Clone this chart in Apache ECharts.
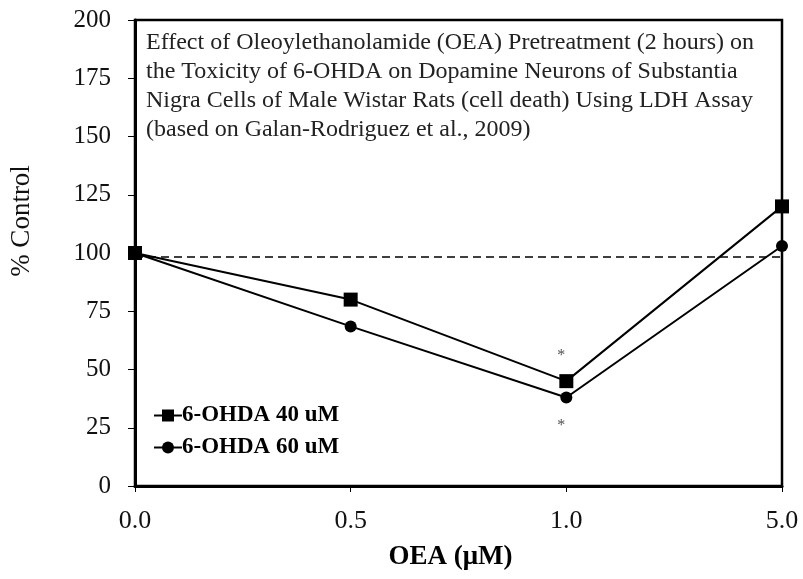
<!DOCTYPE html>
<html>
<head>
<meta charset="utf-8">
<script src="https://cdn.jsdelivr.net/npm/echarts@6/dist/echarts.min.js"></script>
<style>
  html, body { margin: 0; padding: 0; background: #fff; }
  #chart { width: 803px; height: 579px; }
</style>
</head>
<body>
<div id="chart"></div>
<script>
const categories = ['0.0', '0.5', '1.0', '5.0']
const yTicks = [0, 25, 50, 75, 100, 125, 150, 175, 200]
const ohda40 = [100, 80, 45, 120]
const ohda60 = [100, 68.5, 38, 103]
const baseline = 98.5
const starPoints = [['1.0', 57], ['1.0', 27]]

const serif = '"Liberation Serif", "DejaVu Serif", serif'

const chart = echarts.init(document.getElementById('chart'))
chart.setOption({
	animation: false,
	title: {
		text: 'Effect of Oleoylethanolamide (OEA) Pretreatment (2 hours) on\nthe Toxicity of 6-OHDA on Dopamine Neurons of Substantia\nNigra Cells of Male Wistar Rats (cell death) Using LDH Assay\n(based on Galan-Rodriguez et al., 2009)',
		left: 141,
		top: 23,
		textStyle: {
			fontFamily: serif,
			fontWeight: 'normal',
			fontSize: 24,
			lineHeight: 29,
			color: '#222'
		}
	},
	legend: {
		orient: 'vertical',
		left: 148,
		top: 399,
		itemGap: 9,
		itemWidth: 28,
		itemHeight: 15,
		textStyle: {
			fontFamily: serif,
			fontWeight: 'bold',
			fontSize: 23,
			color: '#000',
			padding: [0, 0, 0, -5]
		},
		data: ['6-OHDA 40 uM', '6-OHDA 60 uM']
	},
	grid: {
		left: 134,
		right: 21,
		top: 20,
		bottom: 93,
		show: true,
		borderColor: '#000',
		borderWidth: 2.5
	},
	xAxis: {
		type: 'category',
		data: categories,
		boundaryGap: false,
		name: 'OEA (\u03bcM)',
		nameLocation: 'middle',
		nameGap: 58,
		nameTextStyle: {
			fontFamily: serif,
			fontWeight: 'bold',
			fontSize: 27,
			color: '#000',
			padding: [0, 16, 0, 0]
		},
		axisLine: { lineStyle: { color: '#000', width: 3 } },
		axisTick: { show: true, length: 6, lineStyle: { color: '#000', width: 1 } },
		axisLabel: {
			fontFamily: serif,
			fontSize: 26,
			color: '#111',
			margin: 22
		},
		splitLine: { show: false }
	},
	yAxis: {
		type: 'value',
		min: yTicks[0],
		max: yTicks[yTicks.length - 1],
		interval: 25,
		name: '% Control',
		nameLocation: 'middle',
		nameGap: 100,
		nameTextStyle: {
			fontFamily: serif,
			fontSize: 27,
			color: '#111',
			padding: [0, 0, 0, 64]
		},
		axisLine: { show: true, lineStyle: { color: '#000', width: 3 } },
		axisTick: { show: true, length: 7, lineStyle: { color: '#000', width: 1 } },
		axisLabel: {
			fontFamily: serif,
			fontSize: 25,
			color: '#111',
			margin: 24
		},
		splitLine: { show: false }
	},
	series: [
		{
			name: '6-OHDA 60 uM',
			type: 'line',
			data: ohda60,
			symbol: 'circle',
			symbolSize: 12,
			itemStyle: { color: '#000' },
			lineStyle: { color: '#000', width: 2 },
			z: 3
		},
		{
			name: '6-OHDA 40 uM',
			type: 'line',
			data: ohda40,
			symbol: 'rect',
			symbolSize: 14,
			itemStyle: { color: '#000' },
			lineStyle: { color: '#000', width: 2 },
			z: 4,
			markLine: {
				silent: true,
				symbol: 'none',
				label: { show: false },
				lineStyle: { color: '#000', type: [8, 5], width: 1.5 },
				data: [{ yAxis: baseline }]
			}
		},
		{
			name: 'stars',
			type: 'scatter',
			data: starPoints,
			symbolSize: 0,
			label: {
				show: true,
				formatter: '*',
				position: 'inside',
				offset: [-5, 3],
				fontFamily: serif,
				fontSize: 16,
				color: '#222'
			}
		}
	]
})
</script>
</body>
</html>
